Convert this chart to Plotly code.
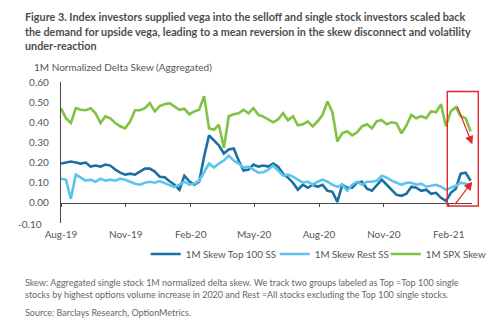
import pandas as pd
import plotly.graph_objects as go

# ---- data (weekly readings, Aug-2019 .. Mar-2021) ----
dates = pd.date_range("2019-08-01", periods=84, freq="7D")

top100 = [0.195,0.20,0.205,0.20,0.195,0.20,0.18,0.185,0.18,0.19,0.185,0.165,0.15,0.14,0.145,0.14,0.155,0.17,0.17,0.155,0.13,0.127,
          0.107,0.09,0.065,0.135,0.107,0.09,0.105,0.23,0.335,0.31,0.285,0.245,0.265,0.27,0.21,0.16,0.165,0.19,0.18,
          0.185,0.18,0.195,0.18,0.145,0.125,0.10,0.065,0.09,0.075,0.09,0.08,0.09,0.06,0.055,0.005,0.09,0.075,0.075,0.10,0.105,
          0.07,0.06,0.09,0.115,0.09,0.066,0.04,0.035,0.045,0.08,0.075,0.06,0.065,0.045,0.05,0.025,0.01,0.05,0.07,0.145,0.15,0.11]

rest = [0.12,0.115,0.02,0.14,0.125,0.11,0.115,0.105,0.12,0.11,0.115,0.11,0.12,0.115,0.105,0.095,0.09,0.10,0.105,0.10,0.108,0.098,
        0.09,0.078,0.09,0.105,0.09,0.095,0.11,0.15,0.195,0.175,0.195,0.21,0.235,0.21,0.195,0.175,0.18,0.165,0.15,
        0.152,0.165,0.185,0.16,0.135,0.14,0.13,0.115,0.10,0.105,0.09,0.105,0.115,0.105,0.09,0.08,0.09,0.06,0.09,0.105,0.09,
        0.105,0.105,0.11,0.135,0.125,0.11,0.10,0.09,0.10,0.10,0.09,0.095,0.08,0.085,0.09,0.08,0.065,0.075,0.085,0.10,0.095,0.09]

spx = [0.47,0.42,0.396,0.47,0.462,0.46,0.47,0.445,0.396,0.43,0.42,0.396,0.38,0.37,0.404,0.46,0.46,0.47,0.495,0.454,0.48,0.49,
       0.495,0.478,0.462,0.467,0.44,0.454,0.462,0.53,0.37,0.363,0.388,0.272,0.43,0.44,0.445,0.462,0.445,0.47,0.437,
       0.428,0.415,0.40,0.415,0.445,0.41,0.43,0.385,0.39,0.405,0.38,0.405,0.437,0.503,0.45,0.305,0.346,0.355,0.335,0.35,0.38,
       0.39,0.37,0.405,0.41,0.39,0.40,0.395,0.345,0.385,0.437,0.42,0.43,0.42,0.455,0.45,0.49,0.38,0.455,0.475,0.43,0.42,0.355]

series_names = ["1M Skew Top 100 SS", "1M Skew Rest SS", "1M SPX Skew"]
series_colors = ["#1b6fa3", "#5ec4ef", "#80c242"]
y_min, y_max = -0.10, 0.60
y_ticks = [0.00, 0.10, 0.20, 0.30, 0.40, 0.50, 0.60]

title_lines = [
    "Figure 3. Index investors supplied vega into the selloff and single stock investors scaled back",
    "the demand for upside vega, leading to a mean reversion in the skew disconnect and volatility",
    "under-reaction",
]
note_lines = [
    "Skew: Aggregated single stock 1M normalized delta skew. We track two groups labeled as Top =Top 100 single",
    "stocks by highest options volume increase in 2020 and Rest =All stocks excluding the Top 100 single stocks.",
]
source_text = "Source: Barclays Research, OptionMetrics."
ytitle = "1M Normalized Delta Skew (Aggregated)"

# ---- layout geometry ----
W, H = 500, 321
L, R, T, B = 61, 28, 82, 98
PW, PH = W - L - R, H - T - B
def px(x):
    return (x - L) / PW
def py(y):
    return (H - B - y) / PH

FONT = "Lato"
GRAY = "#555555"
legend_ids = ["legend", "legend2", "legend3"]
legend_text_x = [186.7, 315.7, 426.7]

fig = go.Figure()
for name, vals, col, lg in zip(series_names, [top100, rest, spx], series_colors, legend_ids):
    fig.add_trace(go.Scatter(x=dates, y=vals, mode="lines", name=name, legend=lg,
                             line=dict(color=col, width=2.6), hoverinfo="skip"))
# helper trace for axis at zero
fig.add_trace(go.Scatter(x=[dates[0]], y=[None], xaxis="x2", showlegend=False, hoverinfo="skip"))

xr = ["2019-08-01", "2021-03-06"]
legends = {}
for lg, tx in zip(legend_ids, legend_text_x):
    legends[lg] = dict(orientation="h", x=px(tx - 41), y=py(254), xanchor="left", yanchor="middle",
                       font=dict(size=9.8, color=GRAY), itemwidth=30, bgcolor="rgba(0,0,0,0)",
                       borderwidth=0)
fig.update_layout(
    width=W, height=H,
    margin=dict(l=L, r=R, t=T, b=B, autoexpand=False),
    paper_bgcolor="white", plot_bgcolor="white",
    font=dict(family=FONT, color=GRAY, size=10),
    showlegend=True,
    xaxis=dict(range=xr, type="date", tick0="2019-08-01", dtick="M3", tickformat="%b-%y",
               showgrid=False, showline=False, ticks="", zeroline=False,
               tickfont=dict(size=10, color=GRAY), ticklabelstandoff=4),
    xaxis2=dict(range=xr, type="date", overlaying="x", anchor="free", position=(0 - y_min) / (y_max - y_min),
                tick0="2019-08-01", dtick="M3", showticklabels=False, showgrid=False,
                showline=True, linecolor="#4a4a4a", linewidth=1.3,
                ticks="outside", ticklen=3, tickcolor="#4a4a4a", tickwidth=1.3),
    yaxis=dict(range=[y_min, y_max], tickmode="array", tickvals=y_ticks, tickformat=".2f",
               showgrid=False, zeroline=False,
               showline=True, linecolor="#4a4a4a", linewidth=1.3, ticks="",
               ticklabelstandoff=9, tickfont=dict(size=10, color=GRAY)),
    **legends,
)

ann = []
for i, line in enumerate(title_lines):
    ann.append(dict(text="<b>" + line + "</b>", x=px(23), y=py(17 + i * 14.3), xref="paper", yref="paper",
                    xanchor="left", yanchor="middle", showarrow=False,
                    font=dict(size=10.8, color="#4d4d4d", family=FONT)))
ann.append(dict(text=ytitle, x=px(32), y=py(67), xref="paper", yref="paper", xanchor="left",
                yanchor="middle", showarrow=False, font=dict(size=10, color=GRAY)))
for i, line in enumerate(note_lines):
    ann.append(dict(text=line, x=px(23), y=py(282 + i * 12.5), xref="paper", yref="paper",
                    xanchor="left", yanchor="middle", showarrow=False, font=dict(size=9, color="#666666")))
ann.append(dict(text=source_text, x=px(23), y=py(312), xref="paper", yref="paper", xanchor="left",
                yanchor="middle", showarrow=False, font=dict(size=9, color="#666666")))
# bottom y tick label, written as its own text line at the foot of the y axis
ann.append(dict(text="-0.10", x=px(16), y=py(223.5), xref="paper", yref="paper", xanchor="left",
                yanchor="middle", showarrow=False, font=dict(size=10, color=GRAY, family=FONT)))
# red arrows
ann.append(dict(x=px(472.3), y=py(144.3), xref="paper", yref="paper", ax=-15.6, ay=-39.3,
                showarrow=True, arrowhead=2, arrowsize=1.4, arrowwidth=1.2, arrowcolor="#e5262b", text=""))
ann.append(dict(x=px(472.3), y=py(181.7), xref="paper", yref="paper", ax=-18.3, ay=24,
                showarrow=True, arrowhead=2, arrowsize=1.4, arrowwidth=1.2, arrowcolor="#e5262b", text=""))
fig.update_layout(annotations=ann)

fig.add_shape(type="rect", xref="paper", yref="paper", x0=px(447.3), x1=px(478.3), y0=py(206), y1=py(91.5),
              line=dict(color="#e5262b", width=1.4), fillcolor="rgba(0,0,0,0)")

fig.write_html("out.html")
